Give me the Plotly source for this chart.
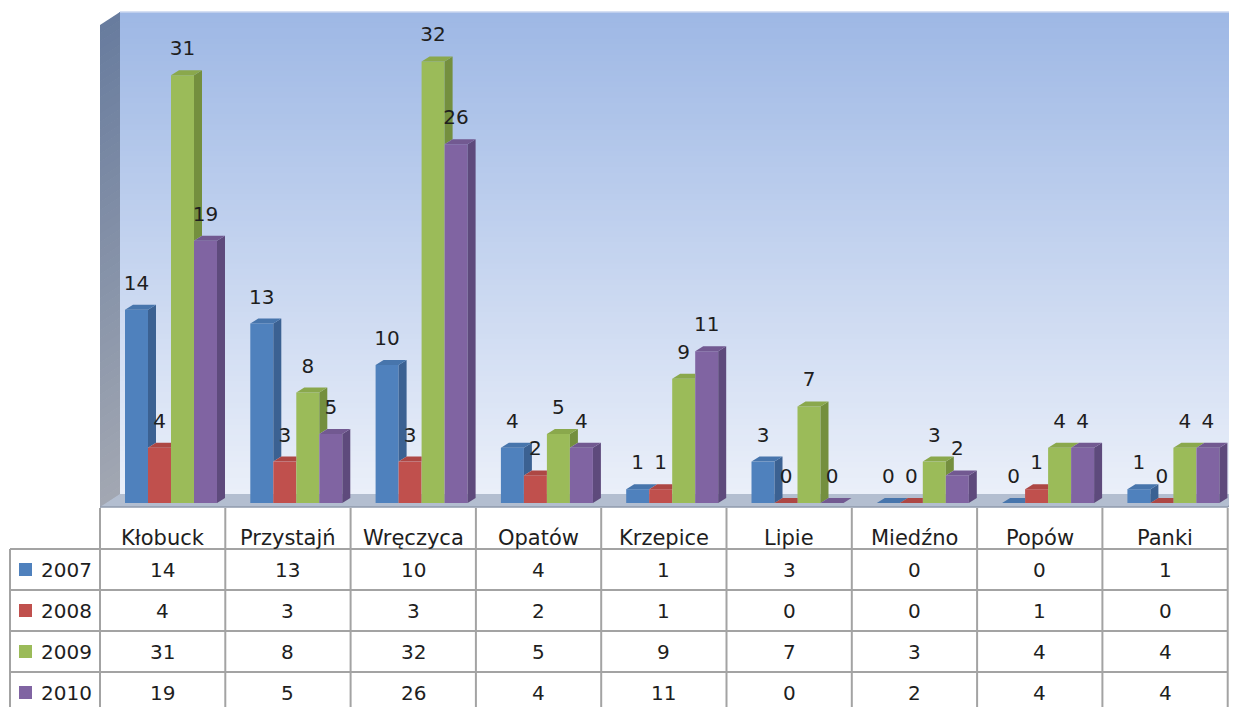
import plotly.graph_objects as go

# ---------------- data ----------------
categories = ["Kłobuck", "Przystajń", "Wręczyca", "Opatów", "Krzepice", "Lipie", "Miedźno", "Popów", "Panki"]
series_names = ["2007", "2008", "2009", "2010"]
v2007 = [14, 13, 10, 4, 1, 3, 0, 0, 1]
v2008 = [4, 3, 3, 2, 1, 0, 0, 1, 0]
v2009 = [31, 8, 32, 5, 9, 7, 3, 4, 4]
v2010 = [19, 5, 26, 4, 11, 0, 2, 4, 4]
series_values = [v2007, v2008, v2009, v2010]

# ---------------- style ----------------
W, H = 1237, 707
OFF = 8                  # page body margin compensation
FONT = "DejaVu Sans"
front_cols = ["#4f81bd", "#c0504d", "#9bbb59", "#8064a2"]
side_cols = ["#3b6192", "#933c39", "#748f3e", "#5e4a7c"]
top_cols = ["#4775ac", "#ad4744", "#8aa84c", "#725991"]

# pixel geometry -> data units
COL_W = 125.3            # px per category
X0_PX = 100 + COL_W / 2 - OFF  # pixel of category 0 centre (figure coords)
Y0_PX = 503 - OFF        # pixel of value 0 (figure coords)
PX_PER_UNIT = 13.8
BAR_W = 23 / COL_W
GROUP_OFF = -(COL_W / 2 - 25) / COL_W
DX = 8 / COL_W
DY = 5 / PX_PER_UNIT
LABEL_OFF = 25 / PX_PER_UNIT

x_range = [-X0_PX / COL_W, (W - X0_PX) / COL_W]
y_range = [-(H - Y0_PX) / PX_PER_UNIT, Y0_PX / PX_PER_UNIT]


def px(x):
    return (x - OFF) / W


def py(y):
    return 1 - (y - OFF) / H


def lerp(c0, c1, t):
    return "rgb(%d,%d,%d)" % tuple(round(a + (b - a) * t) for a, b in zip(c0, c1))


fig = go.Figure()
shapes = []
annotations = []

# ---- back wall gradient ----
wall_top, wall_bot = 12, 494
N = 90
for k in range(N):
    y0 = wall_top + (wall_bot - wall_top) * k / N
    y1 = wall_top + (wall_bot - wall_top) * (k + 1) / N + 0.8
    shapes.append(dict(type="rect", xref="paper", yref="paper", layer="below",
                       x0=px(119), x1=px(W + OFF), y0=py(y0), y1=py(min(y1, wall_bot)),
                       fillcolor=lerp((158, 184, 229), (234, 239, 249), k / (N - 1)),
                       line=dict(width=0)))
shapes.append(dict(type="line", xref="paper", yref="paper", layer="below",
                   x0=px(120), x1=px(W + OFF), y0=py(12), y1=py(12),
                   line=dict(color="#c9d6ef", width=1.5)))

# ---- left side wall gradient ----
NL = 60
for k in range(NL):
    t0 = (wall_bot - wall_top) * k / NL
    t1 = (wall_bot - wall_top) * (k + 1) / NL + 0.8
    path = "M %f,%f L %f,%f L %f,%f L %f,%f Z" % (
        px(100), py(25 + t0), px(120), py(12 + t0), px(120), py(12 + t1), px(100), py(25 + t1))
    shapes.append(dict(type="path", xref="paper", yref="paper", layer="below", path=path,
                       fillcolor=lerp((104, 124, 158), (162, 167, 178), k / (NL - 1)),
                       line=dict(width=0)))

# ---- floor ----
floor_path = "M %f,%f L %f,%f L %f,%f L %f,%f L %f,%f Z" % (
    px(100), py(507), px(120), py(494), px(W), py(494), px(W), py(499), px(1228), py(507))
shapes.append(dict(type="path", xref="paper", yref="paper", layer="below", path=floor_path,
                   fillcolor="#b3bed0", line=dict(width=0)))
shapes.append(dict(type="line", xref="paper", yref="paper", layer="below",
                   x0=px(100), x1=px(1228), y0=py(507), y1=py(507),
                   line=dict(color="#8f9aac", width=1.5)))
shapes.append(dict(type="line", xref="paper", yref="paper", layer="below",
                   x0=px(1228), x1=px(W), y0=py(507), y1=py(499),
                   line=dict(color="#8f9aac", width=1.5)))

# ---- 3D bars ----
def bar_left(i, j):
    return i + GROUP_OFF + j * BAR_W


for j, vals in enumerate(series_values):
    centres = [bar_left(i, j) + BAR_W / 2 for i in range(len(categories))]
    fig.add_trace(go.Bar(x=centres, y=vals, width=BAR_W, base=0,
                         marker=dict(color=front_cols[j], line=dict(width=0)),
                         hoverinfo="skip", showlegend=False))

for j, vals in enumerate(series_values):
    sx, sy, tx, ty = [], [], [], []
    for i, v in enumerate(vals):
        xl = bar_left(i, j)
        xr = xl + BAR_W
        nxt = series_values[j + 1][i] if j < 3 else None
        # side face (clipped by next bar)
        base = 0 if nxt is None else nxt
        if base < v:
            sx += [xr, xr + DX, xr + DX, xr, xr, None]
            sy += [base, base + DY, v + DY, v, base, None]
        # top face
        if nxt is not None and nxt > v:
            tx += [xl, xl + DX, xr, xr, xl, None]
            ty += [v, v + DY, v + DY, v, v, None]
        else:
            tx += [xl, xl + DX, xr + DX, xr, xl, None]
            ty += [v, v + DY, v + DY, v, v, None]
    if sx:
        fig.add_trace(go.Scatter(x=sx, y=sy, mode="lines", fill="toself",
                                 fillcolor=side_cols[j], line=dict(width=0),
                                 hoverinfo="skip", showlegend=False))
    fig.add_trace(go.Scatter(x=tx, y=ty, mode="lines", fill="toself",
                             fillcolor=top_cols[j], line=dict(width=0),
                             hoverinfo="skip", showlegend=False))

# ---- value labels ----
for j, vals in enumerate(series_values):
    centres = [bar_left(i, j) + BAR_W / 2 for i in range(len(categories))]
    fig.add_trace(go.Scatter(x=centres, y=[v + LABEL_OFF for v in vals], mode="text",
                             text=[str(v) for v in vals], textposition="middle center",
                             textfont=dict(family=FONT, size=20, color="#1e1e1e"),
                             hoverinfo="skip", showlegend=False))

# ---- data table ----
GRID = "#a3a3a3"
col_edges = [100 + COL_W * k for k in range(len(categories) + 1)]
row_edges = [549, 590, 631, 672, 713]
for y in row_edges[:-1]:
    shapes.append(dict(type="line", xref="paper", yref="paper",
                       x0=px(10), x1=px(col_edges[-1]), y0=py(y), y1=py(y),
                       line=dict(color=GRID, width=2)))
shapes.append(dict(type="line", xref="paper", yref="paper",
                   x0=px(10), x1=px(10), y0=py(549), y1=py(713),
                   line=dict(color=GRID, width=2)))
for xe in col_edges:
    shapes.append(dict(type="line", xref="paper", yref="paper",
                       x0=px(xe), x1=px(xe), y0=py(508), y1=py(713),
                       line=dict(color=GRID, width=2)))

for k, name in enumerate(categories):
    cx = (col_edges[k] + col_edges[k + 1]) / 2
    annotations.append(dict(x=px(cx), y=py(538), xref="paper", yref="paper", text=name,
                            showarrow=False, xanchor="center", yanchor="middle",
                            font=dict(family=FONT, size=21, color="#1e1e1e")))

for r, (name, vals) in enumerate(zip(series_names, series_values)):
    cy = (row_edges[r] + row_edges[r + 1]) / 2
    shapes.append(dict(type="rect", xref="paper", yref="paper",
                       x0=px(19), x1=px(32), y0=py(cy - 6.5), y1=py(cy + 6.5),
                       fillcolor=front_cols[r], line=dict(width=0)))
    annotations.append(dict(x=px(39), y=py(cy), xref="paper", yref="paper", text=name,
                            showarrow=False, xanchor="left", yanchor="middle",
                            font=dict(family=FONT, size=20, color="#1e1e1e")))
    for k, v in enumerate(vals):
        cx = (col_edges[k] + col_edges[k + 1]) / 2
        annotations.append(dict(x=px(cx), y=py(cy), xref="paper", yref="paper", text=str(v),
                                showarrow=False, xanchor="center", yanchor="middle",
                                font=dict(family=FONT, size=20, color="#1e1e1e")))

fig.update_layout(
    width=W, height=H,
    margin=dict(l=0, r=0, t=0, b=0, pad=0),
    paper_bgcolor="white", plot_bgcolor="rgba(0,0,0,0)",
    xaxis=dict(domain=[0, 1], range=x_range, visible=False, fixedrange=True),
    yaxis=dict(domain=[0, 1], range=y_range, visible=False, fixedrange=True),
    barmode="overlay",
    shapes=shapes, annotations=annotations,
    showlegend=False,
)

fig.write_html("out.html")
